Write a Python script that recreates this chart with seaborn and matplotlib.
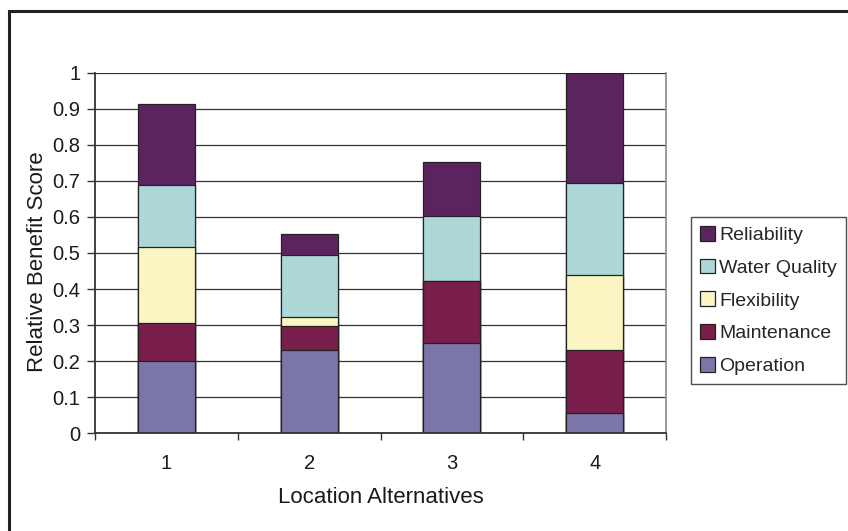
import matplotlib
matplotlib.use("Agg")
import matplotlib.pyplot as plt
from matplotlib.patches import Patch, Rectangle
import pandas as pd
import seaborn as sns

# Relative benefit scores per location alternative, one list per criterion
locations = ["1", "2", "3", "4"]
operation = [0.200, 0.231, 0.250, 0.057]
maintenance = [0.107, 0.066, 0.172, 0.173]
flexibility = [0.209, 0.026, 0.000, 0.209]
water_quality = [0.172, 0.172, 0.181, 0.255]
reliability = [0.224, 0.058, 0.148, 0.306]

criteria = ["Operation", "Maintenance", "Flexibility", "Water Quality", "Reliability"]
colors = ["#7b76a8", "#7a1e4b", "#faf5c3", "#aed8d8", "#5c245e"]
y_ticks = [0, 0.1, 0.2, 0.3, 0.4, 0.5, 0.6, 0.7, 0.8, 0.9, 1.0]
y_tick_labels = ["0", "0.1", "0.2", "0.3", "0.4", "0.5", "0.6", "0.7", "0.8", "0.9", "1"]

series = [operation, maintenance, flexibility, water_quality, reliability]
rows = []
for name, values in zip(criteria, series):
    for loc, v in zip(locations, values):
        rows.append({"location": loc, "criterion": name, "score": v})
df = pd.DataFrame(rows)
df["criterion"] = pd.Categorical(df["criterion"], categories=criteria, ordered=True)
df = df.sort_values(["location", "criterion"])
df["top"] = df.groupby("location")["score"].cumsum()

sns.set_style("white")
plt.rcParams["font.family"] = ["Liberation Sans", "DejaVu Sans"]

fig = plt.figure(figsize=(8.48, 5.31), dpi=100)
ax = fig.add_axes([95 / 848, 1 - 433.3 / 531, 571 / 848, 360.6 / 531])

# Stacked bars: draw cumulative heights from the top segment down
for name, color in reversed(list(zip(criteria, colors))):
    sub = df[df["criterion"] == name]
    sns.barplot(data=sub, x="location", y="top", order=locations, color=color,
                saturation=1, width=0.4, edgecolor="#222222", linewidth=0.9,
                errorbar=None, ax=ax)

ax.set_xlim(-0.5, 3.5)
ax.set_ylim(0, 1)
ax.set_axisbelow(True)
ax.set_yticks(y_ticks)
ax.set_yticklabels(y_tick_labels)
ax.yaxis.grid(True, color="#303030", linewidth=0.9)
ax.xaxis.grid(False)

for side in ["left", "bottom"]:
    ax.spines[side].set_color("#333333")
    ax.spines[side].set_linewidth(1.3)
ax.spines["top"].set_visible(False)
ax.spines["right"].set_color("#8a8a8a")
ax.spines["right"].set_linewidth(1.2)

ax.tick_params(axis="y", which="major", direction="out", length=5.5, width=1,
               color="#333333", pad=5, labelsize=14.5, left=True)
ax.tick_params(axis="x", which="major", length=0, pad=15, labelsize=14.5)
ax.set_xticks([-0.5, 0.5, 1.5, 2.5, 3.5], minor=True)
ax.tick_params(axis="x", which="minor", direction="out", length=5, width=1,
               color="#333333", bottom=True)

ax.set_xlabel("Location Alternatives", fontsize=16, color="#1a1a1a")
ax.set_ylabel("Relative Benefit Score", fontsize=16, color="#1a1a1a")
ax.yaxis.set_label_coords(-0.083, 0.475)
ax.xaxis.set_label_coords(0.5, -0.15)
for lbl in ax.get_xticklabels() + ax.get_yticklabels():
    lbl.set_color("#1a1a1a")

# Legend lists the top segment first
handles = [Patch(facecolor=c, edgecolor="#222222", linewidth=0.9, label=n)
           for n, c in reversed(list(zip(criteria, colors)))]
leg = fig.legend(handles=handles, loc="upper left",
                 bbox_to_anchor=(691 / 848, 1 - 217 / 531), frameon=True,
                 fancybox=False, shadow=False, fontsize=14, handlelength=0.8,
                 handleheight=0.8, handletextpad=0.2, labelspacing=0.75,
                 borderpad=0.45, borderaxespad=0)
leg.get_frame().set_edgecolor("#222222")
leg.get_frame().set_linewidth(1.0)

# Outer chart frame, open at the right and bottom edges
fig.patches.append(Rectangle((8.5 / 848, -0.05), 1.2, 1 - 10.5 / 531 + 0.05,
                             transform=fig.transFigure, fill=False,
                             edgecolor="#222222", linewidth=2.2))

fig.savefig("out.png", dpi=100, facecolor="white")
